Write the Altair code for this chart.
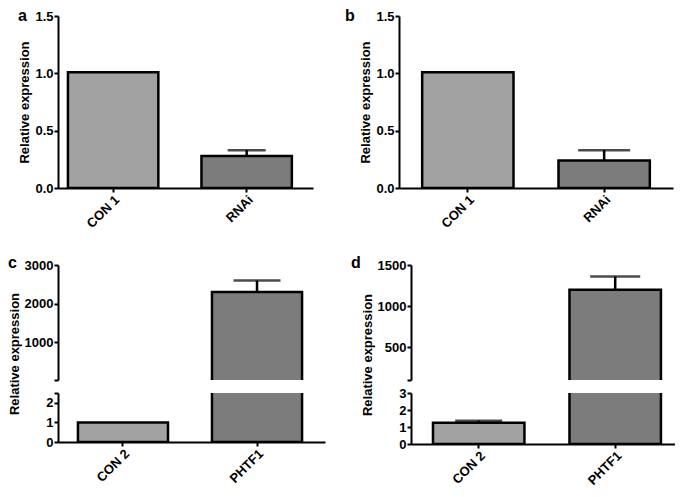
import altair as alt
import pandas as pd

# ---- data ----
cats_ab = ["CON 1", "RNAi"]
a_vals = [1.01, 0.28]
a_errs = [0.0, 0.05]
b_vals = [1.01, 0.24]
b_errs = [0.0, 0.09]

cats_cd = ["CON 2", "PHTF1"]
c_vals = [1.0, 2300]
c_errs = [0.0, 300]
d_vals = [1.25, 1200]
d_errs = [0.12, 160]

fills = ["#a2a2a2", "#7c7c7c"]
FONT = "Liberation Sans"


def frame(cats, vals, errs):
    return pd.DataFrame({
        "cat": cats,
        "val": vals,
        "err": errs,
        "top": [v + e for v, e in zip(vals, errs)],
    })


def segment(df, cats, domain, values, width, height, band, letter=None,
            letter_x=-40, letter_y=0, show_x=True, title=True, title_y=None,
            hidden=None, fmt=".0f", floor=None, cap_size=45):
    label_expr = "datum.label"
    if hidden is not None:
        label_expr = f"datum.value == {hidden} ? '' : datum.label"
    yaxis_kwargs = dict(values=values, format=fmt, labelExpr=label_expr,
                        labelOverlap=False)
    if title:
        yaxis_kwargs["title"] = "Relative expression"
        if title_y is not None:
            yaxis_kwargs["titleY"] = title_y
    else:
        yaxis_kwargs["title"] = None
    pi, po, al = band
    xscale = alt.Scale(domain=cats, paddingInner=pi, paddingOuter=po, align=al)
    xaxis = alt.Axis(labelAngle=-45, title=None, labelPadding=1) if show_x else None
    yscale = alt.Scale(domain=domain, nice=False, zero=False)
    x = alt.X("cat:N", scale=xscale, axis=xaxis, sort=cats)
    base = alt.Chart(df)
    if floor is not None:
        base = base.transform_filter(f"datum.val > {floor}")
    bars = base.mark_bar(stroke="black", strokeWidth=2.5, clip=True).encode(
        x=x,
        y=alt.Y("val:Q", scale=yscale, axis=alt.Axis(**yaxis_kwargs)),
        y2=alt.datum(0),
        color=alt.Color("cat:N", scale=alt.Scale(domain=cats, range=fills), legend=None),
    )
    errdf = base.transform_filter("datum.err > 0")
    rule = errdf.mark_rule(color="black", strokeWidth=2.5, clip=True).encode(
        x=x, y=alt.Y("val:Q", scale=yscale, axis=alt.Axis(**yaxis_kwargs)),
        y2="top:Q")
    cap = errdf.mark_tick(color="black", thickness=2.5, size=cap_size, clip=True).encode(
        x=x, y=alt.Y("top:Q", scale=yscale, axis=alt.Axis(**yaxis_kwargs)))
    layers = [bars, rule, cap]
    if letter:
        txt = alt.Chart(pd.DataFrame({"t": [letter]})).mark_text(
            font=FONT, fontWeight="bold", fontSize=16, align="left",
            baseline="middle", color="black").encode(
            text="t:N", x=alt.value(letter_x), y=alt.value(letter_y))
        layers.append(txt)
    return alt.layer(*layers).properties(width=width, height=height)


pa = segment(frame(cats_ab, a_vals, a_errs), cats_ab, [0, 1.5], [0, 0.5, 1.0, 1.5],
             255, 172, (0.323, 0.1165, 0.32), letter="a", letter_x=-40,
             fmt=".1f", cap_size=38)
pb = segment(frame(cats_ab, b_vals, b_errs), cats_ab, [0, 1.5], [0, 0.5, 1.0, 1.5],
             274, 172, (0.33, 0.17, 0.5), letter="b", letter_x=-54,
             fmt=".1f", cap_size=52)

UP_H, LO_H_C, LO_H_D, GAP = 115, 49, 51, 13

c_df = frame(cats_cd, c_vals, c_errs)
c_band = (0.328, 0.16, 0.465)
c_up = segment(c_df, cats_cd, [30, 3000], [30, 1000, 2000, 3000], 267, UP_H, c_band,
               letter="c", letter_x=-50, letter_y=-2, show_x=False, title=True,
               title_y=(UP_H + GAP + LO_H_C) / 2, hidden=30, floor=30, cap_size=47)
c_lo = segment(c_df, cats_cd, [0, 2.5], [0, 1, 2, 2.5], 267, LO_H_C, c_band,
               title=False, hidden=2.5, cap_size=47)
pc = alt.vconcat(c_up, c_lo, spacing=GAP, bounds="flush")

d_df = frame(cats_cd, d_vals, d_errs)
d_band = (0.33, 0.132, 0.61)
d_up = segment(d_df, cats_cd, [100, 1500], [100, 500, 1000, 1500], 264, UP_H, d_band,
               letter="d", letter_x=-60, letter_y=-2, show_x=False, title=True,
               title_y=(UP_H + GAP + LO_H_D) / 2, hidden=100, floor=100, cap_size=50)
d_lo = segment(d_df, cats_cd, [0, 3], [0, 1, 2, 3], 264, LO_H_D, d_band,
               title=False, cap_size=47)
pd_ = alt.vconcat(d_up, d_lo, spacing=GAP, bounds="flush")

top = alt.hconcat(pa, pb, spacing=32)
bottom = alt.hconcat(pc, pd_, spacing=26)

chart = alt.vconcat(top, bottom, spacing=24).properties(
    padding=0
).configure_view(
    stroke=None
).configure_axis(
    domainColor="black", domainWidth=2, tickColor="black", tickWidth=2, tickSize=4,
    labelFont=FONT, labelFontWeight="bold", labelFontSize=13, labelColor="black",
    labelPadding=1, titleFont=FONT, titleFontWeight="bold", titleFontSize=13,
    titleColor="black", titlePadding=3, grid=False,
)

chart.save("out.html", embed_options={"renderer": "svg", "actions": False})
